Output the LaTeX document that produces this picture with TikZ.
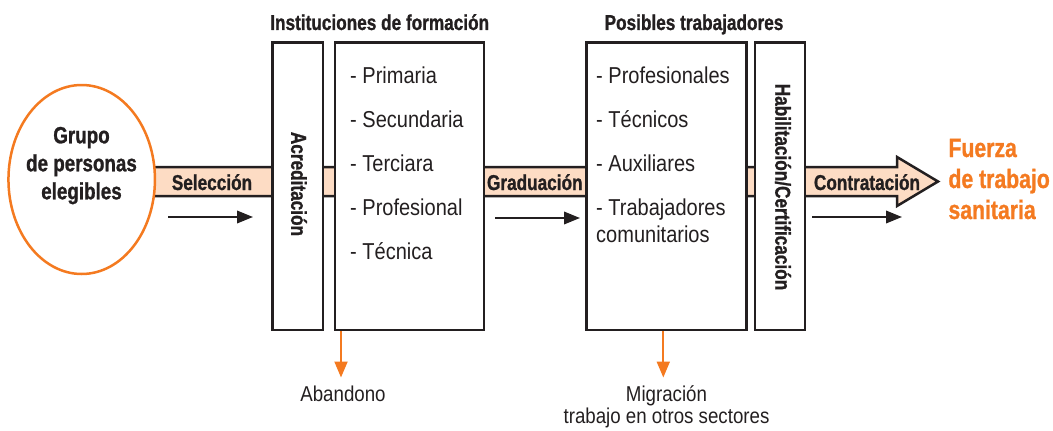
\documentclass[tikz,border=0pt]{standalone}
\usepackage{fontspec}
\setmainfont[FakeStretch=0.87]{Liberation Sans}
\newfontfamily\cbold[FakeStretch=0.8,BoldFeatures={FakeBold=1}]{Liberation Sans}
\usetikzlibrary{arrows.meta,shapes.geometric}
\definecolor{dark}{HTML}{231F20}
\definecolor{orng}{HTML}{F47A20}
\definecolor{peach}{HTML}{FDDCC4}
\newcommand{\fsz}[2]{\fontsize{#1}{#2}\selectfont}
\begin{document}
\begin{tikzpicture}[x=1pt,y=-1pt,
  boxst/.style={draw=dark,line width=2.5pt,fill=white,inner sep=0pt,minimum height=287.5pt},
  bandlbl/.style={anchor=base,inner sep=0pt,text=dark,font=\cbold\bfseries\fsz{21.5}{26}},
  titlelbl/.style={anchor=base,inner sep=0pt,text=dark,font=\cbold\bfseries\fsz{21.5}{26}},
  rotlbl/.style={rotate=-90,inner sep=0pt,text=dark,font=\cbold\bfseries\fsz{21.5}{26}},
  listlbl/.style={anchor=base west,inner sep=0pt,text=dark,font=\fsz{23}{44}},
  outlbl/.style={anchor=base,inner sep=0pt,text=dark,font=\fsz{21.5}{20}},
  flow/.style={draw=dark,line width=2pt,-{Triangle[length=16pt,width=12.5pt]}},
  oflow/.style={draw=orng,line width=2pt,-{Triangle[length=16pt,width=13pt]}}
]
\useasboundingbox (0,0) rectangle (1053,431);

% band with arrow head
\path[fill=peach,draw=dark,line width=2.5pt,line join=miter]
  (120,167) -- (897,167) -- (897,157) -- (938,181.5) -- (897,206) -- (897,196) -- (120,196) -- cycle;

% ellipse
\node[ellipse,draw=orng,line width=2.5pt,fill=white,minimum width=146.5pt,minimum height=189pt,inner sep=0pt] (grupo) at (81.7,179.5) {};
\node[anchor=base,inner sep=0pt,text=dark,font=\cbold\bfseries\fsz{23.5}{28}] (grupotxt) at (81.5,143.3)
  {\begin{tabular}[t]{@{}c@{}}Grupo\\de personas\\elegibles\end{tabular}};

% boxes
\node[boxst,minimum width=50.5pt] (acr) at (297.75,186.25) {};
\node[boxst,minimum width=149pt] (inst) at (409.5,186.25) {};
\node[boxst,minimum width=160pt] (pos) at (666.7,186.25) {};
\node[boxst,minimum width=50pt] (hab) at (780,186.25) {};

% rotated labels
\node[rotlbl] (acrtxt) at (299,184) {Acreditación};
\node[rotlbl] (habtxt) at (783,187) {Habilitación/Certificación};

% titles
\node[titlelbl] (insttitle) at (379.7,30) {Instituciones de formación};
\node[titlelbl] (postitle) at (694,30) {Posibles trabajadores};

% lists
\node[listlbl] (instlist) at (350,83.3)
  {\begin{tabular}[t]{@{}l@{}}- Primaria\\- Secundaria\\- Terciara\\- Profesional\\- Técnica\end{tabular}};
\node[listlbl] (poslist) at (596,83.3)
  {\begin{tabular}[t]{@{}l@{}}- Profesionales\\- Técnicos\\- Auxiliares\\- Trabajadores\\[-17pt]comunitarios\end{tabular}};

% band labels
\node[bandlbl] (sel) at (212,190) {Selección};
\node[bandlbl] (grad) at (534.8,190) {Graduación};
\node[bandlbl] (contr) at (867,190) {Contratación};

% result
\node[anchor=base west,inner sep=0pt,text=orng,font=\cbold\bfseries\fsz{26.5}{31}] (fuerza) at (948.3,157)
  {\begin{tabular}[t]{@{}l@{}}Fuerza\\de trabajo\\sanitaria\end{tabular}};

% flow arrows
\coordinate (s1) at (168,217); \coordinate (e1) at (253,217);
\coordinate (s2) at (495,218); \coordinate (e2) at (580,218);
\coordinate (s3) at (812,217); \coordinate (e3) at (902,217);
\draw[flow] (s1) -- (e1);
\draw[flow] (s2) -- (e2);
\draw[flow] (s3) -- (e3);

% outflows
\node[outlbl] (aband) at (343,401.7) {Abandono};
\node[outlbl] (migr) at (666.5,401.7)
  {\begin{tabular}[t]{@{}c@{}}Migración\\trabajo en otros sectores\end{tabular}};
\coordinate (abtip) at (341,377.5);
\coordinate (mitip) at (663.3,377.5);
\draw[oflow] (inst.south -| abtip) -- (abtip);
\draw[oflow] (pos.south -| mitip) -- (mitip);
\end{tikzpicture}
\end{document}
